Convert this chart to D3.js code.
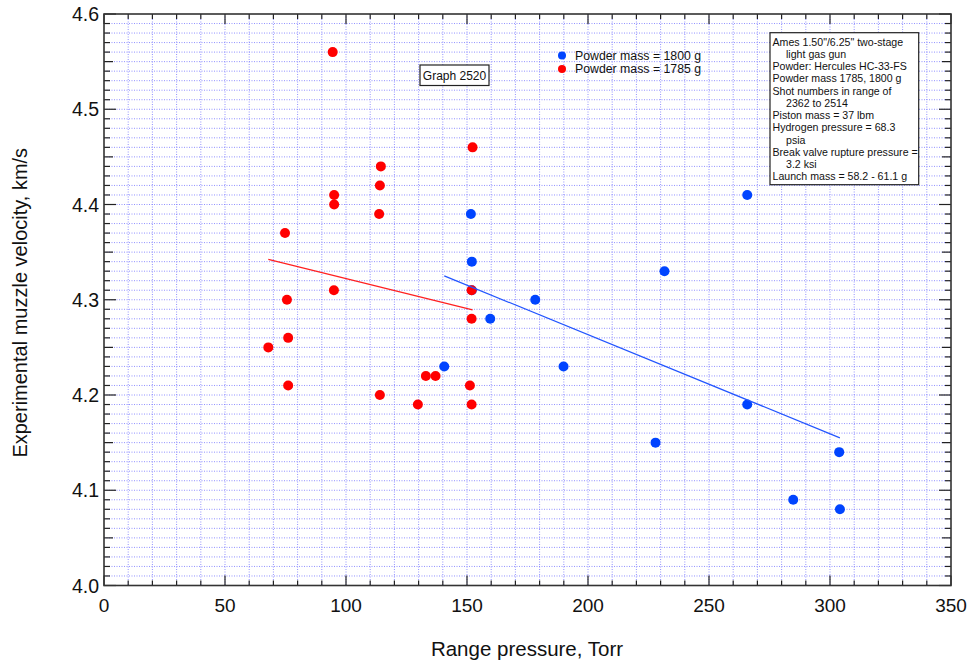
<!DOCTYPE html>
<html><head><meta charset="utf-8">
<script src="https://cdn.jsdelivr.net/npm/d3@7"></script>
<style>body{margin:0;background:#fff}svg{display:block;font-family:"Liberation Sans",Arial,sans-serif}</style>
</head><body><svg id="c" width="973" height="664"></svg>
<script>
// Data
const blueX = [151.6, 152, 152, 159.6, 178.2, 140.6, 189.9, 265.8, 231.6, 265.8, 227.9, 303.8, 284.8, 304.1];
const blueY = [4.39, 4.34, 4.31, 4.28, 4.30, 4.23, 4.23, 4.41, 4.33, 4.19, 4.15, 4.14, 4.09, 4.08];
const redX = [94.5, 152.3, 114.4, 114, 95.1, 95.1, 113.7, 74.8, 95, 75.6, 151.9, 151.9, 76.1, 67.9, 133, 137, 76.1, 151.2, 114, 129.7, 151.9];
const redY = [4.56, 4.46, 4.44, 4.42, 4.41, 4.40, 4.39, 4.37, 4.31, 4.30, 4.31, 4.28, 4.26, 4.25, 4.22, 4.22, 4.21, 4.21, 4.20, 4.19, 4.19];
const seriesNames = ["Powder mass = 1800 g", "Powder mass = 1785 g"];
const seriesColors = ["#0044ff", "#ff0000"];
const xTicks = [0, 50, 100, 150, 200, 250, 300, 350];
const yTicks = [4.0, 4.1, 4.2, 4.3, 4.4, 4.5, 4.6];
const notes = [
  ["Ames 1.50\"/6.25\" two-stage", 0], ["light gas gun", 1], ["Powder: Hercules HC-33-FS", 0],
  ["Powder mass 1785, 1800 g", 0], ["Shot numbers in range of", 0], ["2362 to 2514", 1],
  ["Piston mass = 37 lbm", 0], ["Hydrogen pressure = 68.3", 0], ["psia", 1],
  ["Break valve rupture pressure =", 0], ["3.2 ksi", 1], ["Launch mass = 58.2 - 61.1 g", 0]
];
const graphLabel = "Graph 2520";
const xTitle = "Range pressure, Torr";
const yTitle = "Experimental muzzle velocity, km/s";

const svg = d3.select("#c");
const L = 104, R = 951, T = 14, B = 585.5;
const x = d3.scaleLinear().domain([0, 350]).range([L, R]);
const y = d3.scaleLinear().domain([4.0, 4.6]).range([B, T]);

// grid
const g = svg.append("g");
const xMinor = d3.range(10, 350, 10);
const yMinor = d3.range(1, 60).map(i => 4.0 + i * 0.01);
g.selectAll(".gx").data(xMinor).join("line")
  .attr("x1", d => x(d)).attr("x2", d => x(d)).attr("y1", T).attr("y2", B)
  .attr("stroke", "#7878ff").attr("stroke-width", 1).attr("stroke-dasharray", "1,1.5").attr("opacity", 0.8);
g.selectAll(".gy").data(yMinor).join("line")
  .attr("y1", d => y(d)).attr("y2", d => y(d)).attr("x1", L).attr("x2", R)
  .attr("stroke", "#7878ff").attr("stroke-width", 1).attr("stroke-dasharray", "1,1.5").attr("opacity", 0.8);

// ticks (inward on all sides)
const tk = svg.append("g").attr("stroke", "#222").attr("stroke-width", 1.2);
d3.range(0, 351, 10).forEach(v => {
  const len = v % 50 === 0 ? 10 : 5;
  tk.append("line").attr("x1", x(v)).attr("x2", x(v)).attr("y1", B).attr("y2", B - len);
  tk.append("line").attr("x1", x(v)).attr("x2", x(v)).attr("y1", T).attr("y2", T + len);
});
d3.range(0, 61).forEach(i => {
  const v = 4.0 + i * 0.01;
  const len = i % 10 === 0 ? 12 : (i % 5 === 0 ? 9 : 6);
  tk.append("line").attr("y1", y(v)).attr("y2", y(v)).attr("x1", L).attr("x2", L + len);
  tk.append("line").attr("y1", y(v)).attr("y2", y(v)).attr("x1", R).attr("x2", R - len);
});

// frame
svg.append("rect").attr("x", L).attr("y", T).attr("width", R - L).attr("height", B - T)
  .attr("fill", "none").attr("stroke", "#333").attr("stroke-width", 1.6);

// tick labels
svg.selectAll(".xl").data(xTicks).join("text")
  .attr("x", d => x(d)).attr("y", B + 26).attr("text-anchor", "middle")
  .attr("font-size", 19).attr("fill", "#111").text(d => d);
svg.selectAll(".yl").data(yTicks).join("text")
  .attr("x", L - 5).attr("y", d => y(d) + 7).attr("text-anchor", "end")
  .attr("font-size", 19.5).attr("fill", "#111").text(d => d.toFixed(1));

// axis titles
svg.append("text").attr("x", 527).attr("y", 656).attr("text-anchor", "middle")
  .attr("font-size", 20.5).attr("fill", "#111").text(xTitle);
svg.append("text").attr("transform", `translate(27,${(T + B) / 2 + 3}) rotate(-90)`).attr("text-anchor", "middle")
  .attr("font-size", 20).attr("fill", "#111").text(yTitle);

// points
function pts(xs, ys, color) {
  svg.append("g").selectAll("circle").data(xs.map((v, i) => [v, ys[i]])).join("circle")
    .attr("cx", d => x(d[0])).attr("cy", d => y(d[1])).attr("r", 5).attr("fill", color);
}
pts(blueX, blueY, seriesColors[0]);
pts(redX, redY, seriesColors[1]);

// regression lines
function fit(xs, ys, color) {
  const mx = d3.mean(xs), my = d3.mean(ys);
  let sxy = 0, sxx = 0;
  xs.forEach((v, i) => { sxy += (v - mx) * (ys[i] - my); sxx += (v - mx) * (v - mx); });
  const b = sxy / sxx, a = my - b * mx;
  const x0 = d3.min(xs), x1 = d3.max(xs);
  svg.append("line").attr("x1", x(x0)).attr("y1", y(a + b * x0)).attr("x2", x(x1)).attr("y2", y(a + b * x1))
    .attr("stroke", color).attr("stroke-width", 1.2);
}
fit(blueX, blueY, "#2255ff");
fit(redX, redY, "#ff2020");

// legend
const lg = svg.append("g");
seriesNames.forEach((n, i) => {
  lg.append("circle").attr("cx", 562).attr("cy", 55.5 + i * 13.5).attr("r", 4).attr("fill", seriesColors[i]);
  lg.append("text").attr("x", 575).attr("y", 59.8 + i * 13.5).attr("font-size", 12.3).attr("fill", "#111").text(n);
});

// Graph label box
svg.append("rect").attr("x", 420).attr("y", 65).attr("width", 69).attr("height", 20.5)
  .attr("fill", "#fff").attr("stroke", "#222").attr("stroke-width", 1.2);
svg.append("text").attr("x", 454.5).attr("y", 79.8).attr("text-anchor", "middle").attr("font-size", 12)
  .attr("fill", "#111").text(graphLabel);

// notes box
svg.append("rect").attr("x", 770).attr("y", 32.7).attr("width", 148.7).attr("height", 152)
  .attr("fill", "#fff").attr("stroke", "#222").attr("stroke-width", 1.2);
svg.append("g").selectAll("text").data(notes).join("text")
  .attr("x", d => d[1] ? 786 : 772.5).attr("y", (d, i) => 45.5 + i * 12.27)
  .attr("font-size", 10.6).attr("fill", "#111").text(d => d[0]);
</script></body></html>
